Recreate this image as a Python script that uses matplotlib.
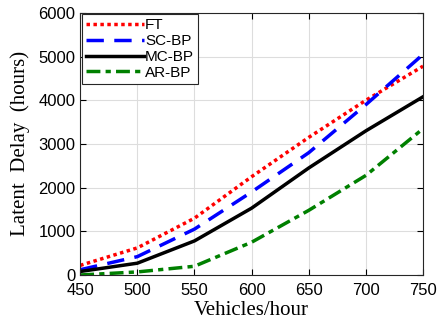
import matplotlib
matplotlib.use("Agg")
from matplotlib import pyplot as plt

# data
x = [450, 500, 550, 600, 650, 700, 750]
ft = [220, 620, 1300, 2250, 3150, 4000, 4780]
sc_bp = [120, 420, 1050, 1900, 2800, 3900, 5050]
mc_bp = [80, 270, 780, 1530, 2450, 3300, 4080]
ar_bp = [0, 70, 200, 750, 1480, 2280, 3350]

plt.rcParams['font.family'] = ['Liberation Sans', 'DejaVu Sans']

fig = plt.figure(figsize=(4.43, 3.22), dpi=100)
ax = fig.add_axes([0.181, 0.146, 0.774, 0.814])

ax.plot(x, ft, color='red', linestyle=(0, (1, 1)), linewidth=2.5, label='FT')
ax.plot(x, sc_bp, color='blue', linestyle=(0, (5, 3)), linewidth=2.5, label='SC-BP')
ax.plot(x, mc_bp, color='black', linestyle='-', linewidth=2.5, label='MC-BP')
ax.plot(x, ar_bp, color='green', linestyle=(0, (4, 1.5, 1.5, 1.5)), linewidth=2.5, label='AR-BP')

ax.set_xlim(450, 750)
ax.set_ylim(0, 6000)
ax.set_xticks(x)
ax.set_yticks(range(0, 6001, 1000))
ax.grid(True, color='#dddddd', linewidth=0.8)
ax.tick_params(direction='in', labelsize=12, top=True, right=True, length=4)
ax.tick_params(axis='x', pad=6)
for s in ax.spines.values():
    s.set_linewidth(0.8)
    s.set_color('#262626')

ax.set_xlabel('Vehicles/hour', fontsize=15, family='Liberation Serif', labelpad=2)
ax.set_ylabel('Latent  Delay  (hours)', fontsize=15, family='Liberation Serif', labelpad=6)

leg = ax.legend(loc='upper left', fontsize=11, fancybox=False, framealpha=1,
                edgecolor='#262626', borderaxespad=0.1, handlelength=3.8,
                handletextpad=0.1, labelspacing=0.12, borderpad=0.25)
leg.get_frame().set_linewidth(0.8)

fig.savefig('out.png', dpi=100)
